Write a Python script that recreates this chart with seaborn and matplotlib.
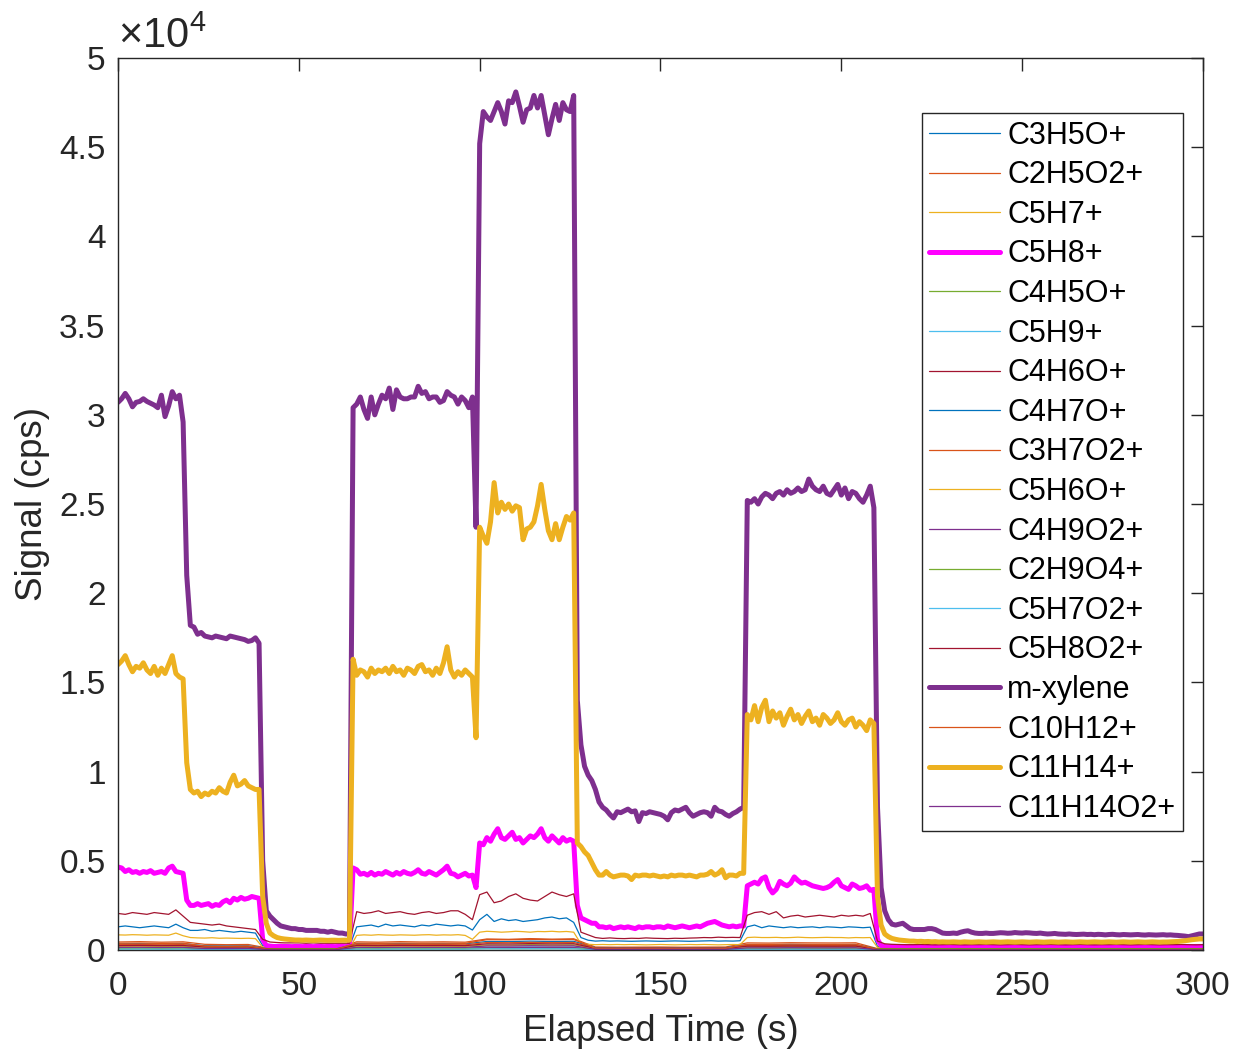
import numpy as np
import pandas as pd
import matplotlib
matplotlib.use('Agg')
import matplotlib.pyplot as plt
import seaborn as sns
from matplotlib.ticker import FuncFormatter, MultipleLocator

# ---------------- data ----------------
ions = ['C3H5O+', 'C2H5O2+', 'C5H7+', 'C5H8+', 'C4H5O+', 'C5H9+', 'C4H6O+',
        'C4H7O+', 'C3H7O2+', 'C5H6O+', 'C4H9O2+', 'C2H9O4+', 'C5H7O2+',
        'C5H8O2+', 'm-xylene', 'C10H12+', 'C11H14+', 'C11H14O2+']

time_1s = np.arange(0, 301, 1)
time_2s = np.arange(0, 301, 2)
time_6s = np.arange(0, 301, 6)

mxylene = [
    30700, 30900, 31200, 30900, 30450, 30700, 30750, 30900, 30750, 30650,
    30550, 30400, 31100, 29900, 30500, 31300, 30900, 31100, 29600, 21000,
    18200, 18100, 17700, 17800, 17600, 17550, 17500, 17600, 17550, 17500,
    17450, 17600, 17550, 17500, 17450, 17400, 17300, 17350, 17500, 17200,
    5000, 2200, 1900, 1700, 1500, 1350, 1300, 1250, 1200, 1200,
    1150, 1150, 1100, 1100, 1100, 1100, 1050, 1050, 1000, 1050,
    1000, 950, 950, 900, 900, 30400, 30600, 31000, 30300, 29800,
    31000, 30000, 30600, 31100, 30900, 31500, 30300, 31400, 31000, 30900,
    30900, 31000, 31000, 31600, 31200, 31300, 30900, 31000, 31000, 30700,
    30800, 31300, 31100, 31000, 30600, 31000, 30800, 30400, 31000, 23700,
    45200, 47000, 46700, 46500, 47000, 47500, 47000, 46300, 47600, 47500,
    48100, 47300, 46400, 47100, 47200, 47900, 47200, 47900, 46800, 45700,
    46600, 47400, 46500, 47500, 47100, 47000, 47900, 14000, 11500, 10300,
    9800, 9500, 9000, 8300, 8000, 7850, 7600, 7400, 7750, 7700,
    7800, 7900, 7750, 7800, 7200, 7700, 7650, 7750, 7700, 7650,
    7600, 7500, 7300, 7700, 7850, 7800, 7900, 8000, 7700, 7500,
    7600, 7700, 7750, 7700, 7500, 8000, 7800, 7750, 7600, 7500,
    7650, 7750, 7900, 8000, 25200, 25100, 25300, 25000, 25400, 25600,
    25500, 25300, 25600, 25700, 25500, 25800, 25600, 25700, 25900, 25700,
    25800, 26400, 26000, 25800, 25700, 26000, 25600, 25500, 25800, 26100,
    25500, 25900, 25300, 25700, 25600, 25300, 25100, 25500, 26000, 24800,
    8000, 3500, 2200, 1700, 1450, 1400, 1450, 1500, 1350, 1200,
    1150, 1150, 1150, 1150, 1200, 1200, 1150, 1050, 950, 930,
    930, 950, 930, 1000, 1050, 1080, 1000, 950, 930, 930,
    950, 930, 930, 950, 970, 960, 940, 950, 980, 960,
    950, 970, 960, 940, 930, 950, 920, 900, 910, 930,
    900, 890, 880, 900, 880, 870, 880, 890, 870, 880,
    860, 880, 870, 850, 870, 880, 860, 850, 870, 860,
    850, 860, 870, 850, 840, 860, 850, 840, 850, 860,
    840, 850, 830, 820, 800, 780, 750, 800, 850, 900,
    900]

c11h14 = [
    16000, 16200, 16500, 16000, 15600, 15900, 15800, 16100, 15700, 15500,
    15900, 15400, 15800, 15500, 16000, 16500, 15500, 15300, 15200, 10500,
    9000, 8800, 8900, 8600, 8800, 8700, 8900, 8800, 9100, 8900,
    8800, 9400, 9800, 9200, 9300, 9500, 9200, 9100, 9000, 9000,
    3000, 1500, 950, 800, 700, 650, 620, 600, 580, 560,
    560, 550, 560, 550, 540, 550, 560, 550, 540, 550,
    550, 540, 550, 550, 550, 16300, 15400, 15700, 15600, 15300,
    15800, 15500, 15700, 15600, 15800, 15500, 15900, 15600, 15700, 15400,
    15800, 15700, 15500, 15900, 16000, 15600, 15700, 15400, 15800, 15500,
    16100, 17000, 15700, 15300, 15600, 15400, 15700, 15500, 15300, 11900,
    23700, 23200, 22800, 24000, 26200, 24500, 25100, 24700, 25000, 24600,
    24900, 24800, 23000, 23600, 23700, 24000, 24900, 26100, 24700, 23500,
    23000, 23900, 23000, 23700, 24300, 24100, 24500, 6000, 5800, 5500,
    5300, 4900, 4500, 4200, 4200, 4400, 4200, 4100, 4150, 4200,
    4200, 4150, 3950, 4200, 4150, 4200, 4200, 4150, 4200, 4150,
    4100, 4150, 4100, 4200, 4150, 4200, 4200, 4150, 4200, 4150,
    4100, 4200, 4200, 4250, 4400, 4200, 4300, 4500, 4050, 4200,
    4200, 4150, 4300, 4300, 13200, 12900, 13700, 12800, 13600, 14000,
    12800, 13400, 13000, 13300, 12600, 13100, 13500, 12900, 13200, 12700,
    13100, 13400, 12800, 13000, 12600, 13200, 13000, 12700, 12900, 13300,
    12800, 12600, 12900, 13000, 12500, 12800, 12600, 12300, 12900, 12700,
    3000, 1400, 900, 750, 650, 600, 560, 540, 520, 500,
    500, 480, 490, 470, 480, 460, 470, 450, 460, 450,
    450, 460, 450, 440, 460, 450, 440, 450, 460, 450,
    440, 450, 460, 450, 440, 450, 460, 450, 440, 450,
    460, 450, 440, 450, 460, 450, 440, 450, 460, 450,
    440, 450, 460, 450, 440, 450, 460, 450, 440, 450,
    460, 450, 440, 450, 460, 450, 440, 450, 460, 450,
    440, 450, 460, 450, 440, 450, 460, 450, 440, 450,
    450, 460, 470, 480, 500, 520, 550, 580, 600, 620,
    620]

c5h8 = [
    4650, 4600, 4400, 4500, 4350, 4400, 4300, 4400, 4350, 4450,
    4300, 4350, 4400, 4300, 4600, 4700, 4400, 4350, 4300, 2800,
    2500, 2500, 2600, 2500, 2550, 2600, 2450, 2550, 2500, 2700,
    2800, 2650, 2900, 2800, 2950, 2850, 2900, 3000, 2950, 2900,
    600, 250, 220, 200, 200, 210, 200, 200, 190, 200,
    200, 190, 200, 200, 190, 200, 200, 190, 200, 200,
    190, 200, 200, 190, 200, 4600, 4500, 4250, 4300, 4200,
    4350, 4200, 4300, 4250, 4400, 4300, 4200, 4350, 4250, 4400,
    4300, 4250, 4350, 4500, 4300, 4250, 4400, 4300, 4200, 4350,
    4500, 4700, 4300, 4250, 4100, 4200, 4300, 4150, 4200, 3500,
    6000, 5900, 6300, 6100, 6500, 6800, 6300, 6200, 6400, 6600,
    6200, 6300, 6000, 6200, 6400, 6300, 6500, 6800, 6300, 6100,
    6400, 6200, 6000, 6300, 6100, 6200, 6100, 2500, 1800, 1700,
    1600, 1500, 1500, 1300, 1300, 1250, 1300, 1200, 1250, 1300,
    1250, 1300, 1250, 1200, 1300, 1250, 1300, 1300, 1250, 1300,
    1300, 1250, 1350, 1300, 1250, 1300, 1350, 1300, 1250, 1300,
    1350, 1300, 1400, 1500, 1550, 1600, 1500, 1400, 1350, 1300,
    1350, 1300, 1350, 1350, 3600, 3700, 3800, 3700, 4000, 4100,
    3500, 3200, 3400, 3850, 3700, 3600, 3750, 4100, 3900, 3750,
    3800, 3700, 3600, 3550, 3500, 3450, 3500, 3600, 3800, 3950,
    3600, 3500, 3400, 3700, 3600, 3450, 3500, 3600, 3350, 3400,
    600, 250, 200, 190, 200, 200, 190, 200, 200, 190,
    200, 200, 190, 200, 200, 190, 200, 200, 190, 200,
    200, 190, 200, 200, 190, 200, 200, 190, 200, 200,
    190, 200, 200, 190, 200, 200, 190, 200, 200, 190,
    200, 200, 190, 200, 200, 190, 200, 200, 190, 200,
    200, 190, 200, 200, 190, 200, 200, 190, 200, 200,
    190, 200, 200, 190, 200, 200, 190, 200, 200, 190,
    200, 200, 190, 200, 200, 190, 200, 200, 190, 200,
    200, 190, 200, 200, 190, 200, 200, 190, 200, 200,
    200]

# 2-s sampled minor series
c4h6o = [
    2050, 2000, 2100, 2050, 2000, 2100, 2050, 2000, 2250, 1900,
    1550, 1500, 1450, 1400, 1450, 1350, 1300, 1250, 1200, 1150,
    600, 450, 420, 400, 400, 400, 380, 400, 380, 380,
    380, 380, 380, 2150, 2050, 2100, 2200, 2050, 2100, 2150,
    2050, 2000, 2100, 2150, 2050, 2100, 2200, 2200, 2000, 1700,
    3100, 3250, 2650, 2750, 3000, 3150, 2900, 2800, 2750, 3000,
    3250, 3100, 3000, 3150, 1000, 850, 700, 650, 680, 650,
    640, 660, 650, 680, 660, 650, 640, 660, 650, 670,
    680, 700, 690, 720, 700, 710, 700, 1950, 2100, 2150,
    2000, 2150, 1800, 1900, 1950, 1850, 1900, 1950, 1900, 1850,
    1950, 1900, 1950, 1900, 2050, 500, 350, 320, 310, 300,
    300, 310, 300, 290, 300, 310, 300, 290, 300, 300,
    310, 300, 290, 300, 310, 300, 290, 300, 300, 310,
    300, 290, 300, 310, 300, 290, 300, 300, 310, 300,
    290, 300, 310, 300, 290, 300, 300, 310, 300, 290,
    300]

c3h5o = [
    1300, 1350, 1300, 1250, 1300, 1350, 1300, 1250, 1450, 1250,
    1100, 1100, 1150, 1050, 1100, 1050, 1000, 1050, 1000, 950,
    250, 200, 190, 200, 190, 180, 190, 180, 190, 180,
    180, 190, 180, 1300, 1350, 1400, 1300, 1450, 1350, 1400,
    1350, 1300, 1400, 1350, 1450, 1400, 1350, 1400, 1350, 1120,
    1700, 2000, 1600, 1750, 1650, 1700, 1600, 1650, 1700, 1800,
    1850, 1750, 1800, 1550, 700, 550, 500, 520, 500, 510,
    500, 490, 500, 510, 500, 490, 500, 510, 500, 490,
    500, 510, 520, 500, 510, 500, 520, 1300, 1400, 1250,
    1350, 1300, 1250, 1300, 1250, 1280, 1300, 1250, 1300, 1280,
    1250, 1300, 1280, 1250, 1280, 200, 160, 150, 150, 150,
    150, 160, 150, 140, 150, 160, 150, 140, 150, 150,
    160, 150, 140, 150, 160, 150, 140, 150, 150, 160,
    150, 140, 150, 160, 150, 140, 150, 150, 160, 150,
    140, 150, 160, 150, 140, 150, 150, 160, 150, 140,
    150]

c5h7 = [
    850, 840, 860, 850, 830, 850, 840, 830, 950, 800,
    700, 680, 670, 690, 660, 670, 660, 650, 660, 640,
    150, 100, 100, 90, 100, 90, 100, 90, 100, 90,
    90, 100, 90, 820, 850, 830, 860, 840, 830, 850,
    840, 830, 850, 860, 830, 850, 840, 860, 820, 600,
    1000, 1050, 1030, 1000, 1020, 1050, 1030, 1000, 1040, 1030,
    1050, 1020, 1040, 1000, 350, 320, 300, 310, 300, 310,
    300, 310, 300, 290, 300, 310, 300, 290, 300, 310,
    300, 310, 300, 290, 300, 310, 300, 700, 720, 700,
    700, 710, 690, 700, 720, 700, 690, 700, 710, 700,
    700, 680, 700, 690, 700, 150, 120, 110, 100, 100,
    100, 110, 100, 90, 100, 110, 100, 90, 100, 100,
    110, 100, 90, 100, 110, 100, 90, 100, 100, 110,
    100, 90, 100, 110, 100, 90, 100, 100, 110, 100,
    90, 100, 110, 100, 90, 100, 100, 110, 100, 90,
    100]

# 6-s sampled low-level series
c2h5o2 = [450, 470, 440, 460, 320, 300, 310, 90, 80, 80, 75,
          460, 440, 470, 450, 460, 440, 620, 600, 640, 610, 630,
          170, 160, 165, 170, 160, 165, 170, 400, 390, 410, 400, 395, 405,
          80, 75, 70, 70, 75, 70, 70, 65, 70, 70, 65, 70, 70, 65, 70, 70]
c4h5o = [200, 210, 195, 205, 140, 135, 140, 40, 35, 35, 30,
         210, 200, 205, 215, 200, 205, 290, 280, 300, 285, 290,
         80, 75, 80, 78, 75, 80, 78, 180, 175, 185, 180, 178, 182,
         35, 30, 30, 28, 30, 28, 30, 28, 30, 28, 30, 28, 30, 28, 30, 30]
c5h9 = [120, 125, 118, 122, 70, 68, 72, 60, 55, 55, 50,
        125, 120, 128, 122, 118, 124, 170, 165, 175, 168, 172,
        40, 38, 42, 40, 38, 40, 42, 100, 98, 104, 100, 96, 102,
        50, 48, 50, 48, 50, 48, 50, 48, 50, 48, 50, 48, 50, 48, 50, 50]
c4h7o = [350, 360, 340, 355, 240, 230, 235, 60, 55, 55, 50,
         360, 345, 365, 350, 355, 345, 480, 470, 500, 475, 490,
         130, 125, 130, 128, 125, 130, 128, 300, 295, 310, 300, 298, 305,
         55, 50, 50, 48, 50, 48, 50, 48, 50, 48, 50, 48, 50, 48, 50, 50]
c3h7o2 = [300, 310, 295, 305, 200, 195, 205, 50, 45, 45, 40,
          305, 295, 310, 300, 305, 295, 420, 410, 430, 415, 425,
          110, 105, 110, 108, 105, 110, 108, 260, 255, 265, 258, 262, 260,
          45, 40, 40, 38, 40, 38, 40, 38, 40, 38, 40, 38, 40, 38, 40, 40]
c5h6o = [180, 185, 175, 182, 120, 115, 118, 30, 28, 28, 25,
         185, 178, 190, 180, 182, 178, 250, 245, 260, 248, 255,
         65, 62, 66, 64, 62, 65, 64, 155, 150, 160, 155, 152, 158,
         28, 25, 25, 24, 25, 24, 25, 24, 25, 24, 25, 24, 25, 24, 25, 25]
c4h9o2 = [100, 105, 98, 102, 65, 62, 66, 20, 18, 18, 16,
          104, 98, 106, 100, 102, 98, 140, 136, 145, 138, 142,
          38, 36, 38, 37, 36, 38, 37, 85, 82, 88, 85, 83, 86,
          18, 16, 16, 15, 16, 15, 16, 15, 16, 15, 16, 15, 16, 15, 16, 16]
c2h9o4 = [80, 84, 78, 82, 79, 81, 83, 80, 78, 82, 80,
          81, 79, 83, 80, 78, 82, 84, 80, 79, 82,
          81, 80, 78, 82, 80, 79, 81, 83, 80, 82, 79, 81, 80, 78,
          82, 80, 79, 81, 80, 78, 82, 80, 81, 79, 80, 82, 78, 80, 81, 80]
c5h7o2 = [50, 52, 48, 51, 33, 32, 34, 10, 9, 9, 8,
          52, 49, 53, 50, 51, 49, 70, 68, 72, 69, 71,
          19, 18, 19, 18, 18, 19, 18, 43, 41, 44, 42, 41, 43,
          9, 8, 8, 8, 8, 8, 8, 8, 8, 8, 8, 8, 8, 8, 8, 8]
c5h8o2 = [250, 260, 245, 255, 170, 165, 172, 45, 40, 40, 38,
          255, 245, 260, 250, 255, 245, 350, 340, 360, 345, 355,
          95, 90, 95, 92, 90, 95, 92, 215, 210, 220, 215, 212, 218,
          40, 38, 38, 36, 38, 36, 38, 36, 38, 36, 38, 36, 38, 36, 38, 38]
c10h12 = [380, 390, 370, 385, 215, 210, 220, 30, 28, 28, 25,
          385, 375, 390, 380, 385, 375, 580, 570, 600, 575, 590,
          95, 90, 95, 92, 90, 95, 92, 320, 315, 330, 320, 318, 325,
          28, 25, 25, 24, 25, 24, 25, 24, 25, 24, 25, 24, 25, 24, 25, 25]
c11h14o2 = [150, 155, 145, 152, 88, 85, 90, 15, 14, 14, 12,
            152, 146, 156, 150, 152, 146, 230, 225, 240, 228, 235,
            38, 36, 38, 37, 36, 38, 37, 125, 122, 130, 125, 123, 128,
            14, 12, 12, 12, 12, 12, 12, 12, 12, 12, 12, 12, 12, 12, 12, 12]

series = {
    'C3H5O+': (time_2s, c3h5o), 'C2H5O2+': (time_6s, c2h5o2),
    'C5H7+': (time_2s, c5h7), 'C5H8+': (time_1s, c5h8),
    'C4H5O+': (time_6s, c4h5o), 'C5H9+': (time_6s, c5h9),
    'C4H6O+': (time_2s, c4h6o), 'C4H7O+': (time_6s, c4h7o),
    'C3H7O2+': (time_6s, c3h7o2), 'C5H6O+': (time_6s, c5h6o),
    'C4H9O2+': (time_6s, c4h9o2), 'C2H9O4+': (time_6s, c2h9o4),
    'C5H7O2+': (time_6s, c5h7o2), 'C5H8O2+': (time_6s, c5h8o2),
    'm-xylene': (time_1s, mxylene), 'C10H12+': (time_6s, c10h12),
    'C11H14+': (time_1s, c11h14), 'C11H14O2+': (time_6s, c11h14o2),
}

colors = {
    'C3H5O+': '#0072BD', 'C2H5O2+': '#D95319', 'C5H7+': '#EDB120',
    'C5H8+': '#FF00FF', 'C4H5O+': '#77AC30', 'C5H9+': '#4DBEEE',
    'C4H6O+': '#A2142F', 'C4H7O+': '#0072BD', 'C3H7O2+': '#D95319',
    'C5H6O+': '#EDB120', 'C4H9O2+': '#7E2F8E', 'C2H9O4+': '#77AC30',
    'C5H7O2+': '#4DBEEE', 'C5H8O2+': '#A2142F', 'm-xylene': '#7E2F8E',
    'C10H12+': '#D95319', 'C11H14+': '#EDB120', 'C11H14O2+': '#7E2F8E',
}
thick = {'C5H8+', 'm-xylene', 'C11H14+'}

# ---------------- style ----------------
sns.set_style('white')
plt.rcParams['font.family'] = ['Liberation Sans', 'DejaVu Sans']
plt.rcParams['mathtext.fontset'] = 'custom'
plt.rcParams['mathtext.rm'] = 'Liberation Sans'
plt.rcParams['mathtext.it'] = 'Liberation Sans:italic'
plt.rcParams['mathtext.bf'] = 'Liberation Sans:bold'

fig = plt.figure(figsize=(12.37, 10.55), dpi=100)
ax = fig.add_axes([0.0954, 0.0995, 0.8771, 0.8455])

for ion in ions:
    t, v = series[ion]
    assert len(t) == len(v), (ion, len(t), len(v))
    df = pd.DataFrame({'time': t, 'signal': v})
    sns.lineplot(data=df, x='time', y='signal', ax=ax, color=colors[ion],
                 linewidth=3.6 if ion in thick else 0.9, label=ion,
                 estimator=None)

ax.set_xlim(0, 300)
ax.set_ylim(0, 50000)
ax.xaxis.set_major_locator(MultipleLocator(50))
ax.yaxis.set_major_locator(MultipleLocator(5000))
ax.yaxis.set_major_formatter(FuncFormatter(lambda v, _: f'{v / 1e4:g}'))

dark = '#262626'
for s in ax.spines.values():
    s.set_visible(True)
    s.set_color(dark)
    s.set_linewidth(1.0)
ax.tick_params(axis='both', which='major', direction='in', length=9,
               width=1.0, color=dark, labelcolor=dark, labelsize=24,
               top=True, right=True)
ax.tick_params(axis='x', pad=15)
ax.tick_params(axis='y', pad=9)

ax.set_xlabel('Elapsed Time (s)', fontsize=26.5, color=dark, labelpad=9)
ax.set_ylabel('Signal (cps)', fontsize=26.5, color=dark, labelpad=6.5)

ax.text(0.0, 1.011, r'$\times10^{4}$', transform=ax.transAxes,
        ha='left', va='baseline', fontsize=30, color=dark)

leg = ax.legend(loc='upper right', bbox_to_anchor=(0.9816, 0.9383),
                frameon=True, fancybox=False, edgecolor=dark, framealpha=1,
                fontsize=22, labelspacing=0.314, handlelength=2.3,
                handletextpad=0.25, borderpad=0.25, borderaxespad=0)
leg.get_frame().set_linewidth(1.0)
for txt in leg.get_texts():
    txt.set_color('black')

fig.savefig('out.png', dpi=100)
